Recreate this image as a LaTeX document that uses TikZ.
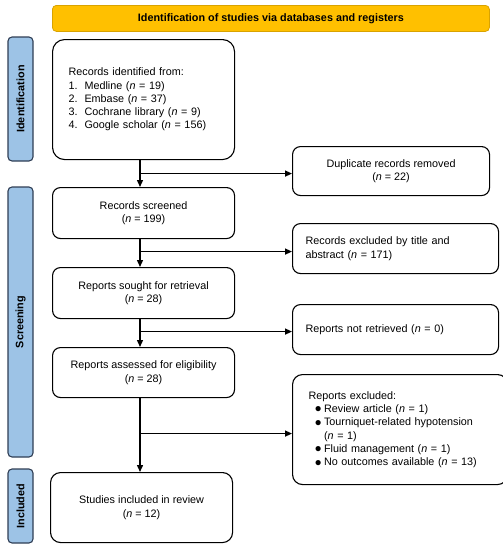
\documentclass[tikz,border=0pt]{standalone}
\usepackage{fontspec}
\setmainfont{Liberation Sans}
\usetikzlibrary{arrows.meta,calc}
\definecolor{bannerfill}{HTML}{FFC000}
\definecolor{bannerdraw}{HTML}{D9A300}
\definecolor{sidefill}{HTML}{9DC3E6}
\definecolor{sidedraw}{HTML}{2F3E55}
\newcommand{\nn}{\textit{n}}
\newcommand{\bul}{\makebox[9.5pt][l]{\raisebox{-0.4pt}{\fontsize{12}{12}\selectfont ●}}}
\begin{document}
\begin{tikzpicture}[x=1pt,y=-1pt,
  box/.style={draw=black, line width=1.1pt, rounded corners=8pt, anchor=north west,
    inner sep=0pt, font=\fontsize{10.8}{13.3}\selectfont, align=center},
  lbox/.style={box, align=left},
  side/.style={draw=sidedraw, fill=sidefill, line width=1.1pt, rounded corners=4pt,
    rotate=90, inner sep=0pt, minimum height=25pt, font=\bfseries\fontsize{10.8}{13}\selectfont},
  arr/.style={line width=1.4pt, -{Triangle[length=7pt,width=6pt]}}]
\useasboundingbox (0,0) rectangle (503,550);

% banner
\node[draw=bannerdraw, fill=bannerfill, line width=0.8pt, rounded corners=4pt, anchor=north west,
  minimum width=437pt, minimum height=26pt, inner sep=0pt, font=\bfseries\fontsize{10.8}{13}\selectfont]
  (banner) at (52,5) {Identification of studies via databases and registers};

% side bars
\node[side, minimum width=124pt] (sid) at (20.5,99) {Identification};
\node[side, minimum width=270pt] (sscr) at (20.5,322) {Screening};
\node[side, minimum width=74pt] (sinc) at (20.5,506) {Included};

% boxes
\node[lbox, rounded corners=12pt, minimum width=182pt, minimum height=120pt, text width=150pt, inner xsep=16pt] (id) at (52,39)
  {Records identified from:\\
   \makebox[16pt][l]{1.}Medline (\nn{} = 19)\\
   \makebox[16pt][l]{2.}Embase (\nn{} = 37)\\
   \makebox[16pt][l]{3.}Cochrane library (\nn{} = 9)\\
   \makebox[16pt][l]{4.}Google scholar (\nn{} = 156)};
\node[box, minimum width=197pt, minimum height=49pt] (dup) at (292,146)
  {Duplicate records removed\\(\nn{} = 22)};
\node[box, minimum width=182pt, minimum height=51pt] (scr) at (52,187)
  {Records screened\\(\nn{} = 199)};
\node[lbox, minimum width=198pt, minimum height=50pt, text width=180pt, inner xsep=13pt] (ex1) at (292,223)
  {Records excluded by title and\\abstract (\nn{} = 171)};
\node[box, minimum width=182pt, minimum height=51pt] (sought) at (52,267)
  {Reports sought for retrieval\\(\nn{} = 28)};
\node[lbox, minimum width=198pt, minimum height=50pt, text width=180pt, inner xsep=13pt] (notret) at (292,304)
  {Reports not retrieved (\nn{} = 0)};
\node[box, minimum width=182pt, minimum height=50pt] (assess) at (52,347)
  {Reports assessed for eligibility\\(\nn{} = 28)};
\node[lbox, rounded corners=10pt, minimum width=203pt, minimum height=110pt, text width=183pt, inner xsep=16pt] (ex2) at (292,374)
  {Reports excluded:\\
   \hspace*{6pt}\bul Review article (\nn{} = 1)\\
   \hspace*{6pt}\bul Tourniquet-related hypotension\\
   \hspace*{15.5pt}(\nn{} = 1)\\
   \hspace*{6pt}\bul Fluid management (\nn{} = 1)\\
   \hspace*{6pt}\bul No outcomes available (\nn{} = 13)};
\node[box, rounded corners=10pt, minimum width=182pt, minimum height=70pt] (inc) at (50,472)
  {Studies included in review\\(\nn{} = 12)};

% connectors
\coordinate (ax) at (140,0);
\coordinate (b1) at ([yshift=-2.5pt]dup.west);
\coordinate (b2) at ([yshift=-3pt]ex1.west);
\coordinate (b3) at ([yshift=-2pt]notret.west);
\coordinate (b4) at ([yshift=-4pt]ex2.west);
\draw[arr] (id.south -| ax) -- (scr.north -| ax);
\draw[arr] (ax |- b1) -- (b1);
\draw[arr] (scr.south -| ax) -- (sought.north -| ax);
\draw[arr] (ax |- b2) -- (b2);
\draw[arr] (sought.south -| ax) -- (assess.north -| ax);
\draw[arr] (ax |- b3) -- (b3);
\draw[arr] (assess.south -| ax) -- (inc.north -| ax);
\draw[arr] (ax |- b4) -- (b4);
\end{tikzpicture}
\end{document}
